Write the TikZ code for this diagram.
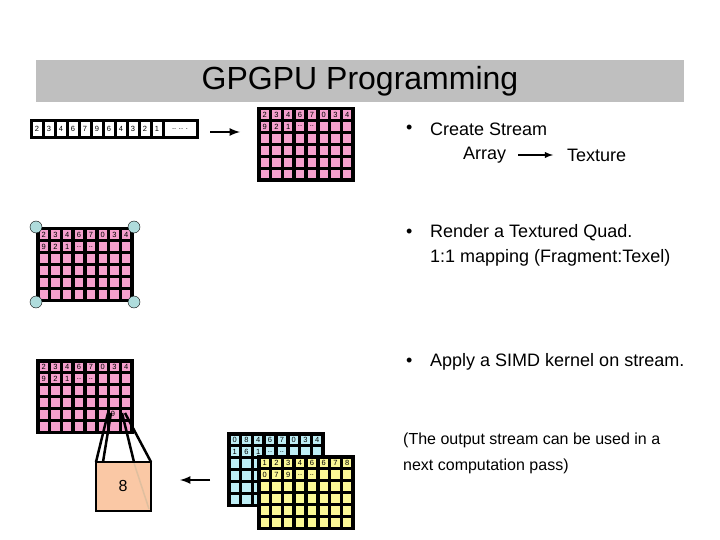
\documentclass[tikz,border=0pt]{standalone}
\usepackage{fontspec}
\setmainfont{Liberation Sans}
\begin{document}
\newcommand\mygrid[5]{% x y color row1 row2
  \fill[black] (#1,#2) rectangle ++(98,75);
  \foreach \i in {0,...,7}{\foreach \j in {0,...,5}{
    \fill[#3] (#1+3.5+\i*11.8125,#2+3.5+\j*11.92) rectangle ++(8.3,8.4);}}
  \foreach \t [count=\k from 0] in {#4}{\node[cell] at (#1+7.6+\k*11.8125,#2+7.7) {\t};}
  \foreach \t [count=\k from 0] in {#5}{\node[cell] at (#1+7.6+\k*11.8125,#2+19.6) {\t};}
}
\begin{tikzpicture}[x=1pt,y=-1pt,
  cell/.style={font=\fontsize{7.5}{8}\selectfont,inner sep=0pt},
  txt/.style={font=\fontsize{18}{20}\selectfont,anchor=west,inner sep=0pt},
  arr/.style={-latex,line width=2.5pt}]
\useasboundingbox (0,0) rectangle (720,540);
\definecolor{pinkc}{RGB}{245,160,205}
\definecolor{bluec}{RGB}{190,238,245}
\definecolor{yellc}{RGB}{252,248,150}
\definecolor{peach}{RGB}{250,200,165}
\definecolor{circ}{RGB}{175,220,220}
\fill[black!25] (36,60) rectangle (684,102);
\node[font=\fontsize{32}{34}\selectfont] (title) at (360,81) {GPGPU Programming};
% stream array
\fill[black] (30,119) rectangle (199,139);
\foreach \t [count=\k from 0] in {2,3,4,6,7,9,6,4,3,2,1}{
  \fill[white] (33+\k*12,122) rectangle ++(8.5,14);
  \node[cell] at (37+\k*12,129) {\t};}
\fill[white] (165,122) rectangle (196,136);
\node[cell] (dots) at (180,129) {.. .. .};
\coordinate (a1) at (210,132); \coordinate (a2) at (240,132);
\draw[arr] (a1) -- (a2);
\mygrid{257}{107}{pinkc}{2,3,4,6,7,0,3,4}{9,2,1,..,..}
% textured quad
\mygrid{36}{227}{pinkc}{2,3,4,6,7,0,3,4}{9,2,1,..,..}
\foreach \p in {(36,227),(134,227),(36,302),(134,302)}{\draw[fill=circ] \p circle (6);}
% kernel
\mygrid{36}{359}{pinkc}{2,3,4,6,7,0,3,4}{9,2,1,..,..}
\node[cell] at (113,414) {9};
\fill[peach] (96,462) rectangle (151,511);
\draw[brown!50,line width=1.5pt] (134,463) -- (149,509);
\draw[line width=2.5pt] (96,462) rectangle (151,511);
\node[font=\fontsize{16}{18}\selectfont] (eight) at (123,486) {8};
\draw[line width=2.5pt] (108,413) -- (96,462);
\draw[line width=2.5pt] (111,413) -- (103,462);
\draw[line width=2.5pt] (122,413) -- (134,462);
\draw[line width=2.5pt] (125,413) -- (151,462);
\coordinate (b1) at (210,480); \coordinate (b2) at (180,480);
\draw[arr] (b1) -- (b2);
\mygrid{227}{432}{bluec}{0,8,4,6,7,0,3,4}{1,6,1,..,..}
\mygrid{257}{455}{yellc}{1,2,3,4,6,6,7,8}{0,7,9,..,..}
% text
\node[txt] (bu1) at (406,129) {•};
\node[txt] (t1) at (430,129) {Create Stream};
\node[txt] (t2) at (463,155) {Array};
\node[txt] (t3) at (567,155) {Texture};
\coordinate (c1) at (518,155); \coordinate (c2) at (553,155);
\draw[arr,line width=1.8pt] (c1) -- (c2);
\node[txt] (bu2) at (406,233) {•};
\node[txt] (t4) at (430,233) {Render a Textured Quad.};
\node[txt] (t5) at (430,258) {1:1 mapping (Fragment:Texel)};
\node[txt] (bu3) at (406,362) {•};
\node[txt] (t6) at (430,362) {Apply a SIMD kernel on stream.};
\node[txt,font=\fontsize{16}{18}\selectfont] (t7) at (403,440) {(The output stream can be used in a};
\node[txt,font=\fontsize{16}{18}\selectfont] (t8) at (403,466) {next computation pass)};
\end{tikzpicture}
\end{document}
